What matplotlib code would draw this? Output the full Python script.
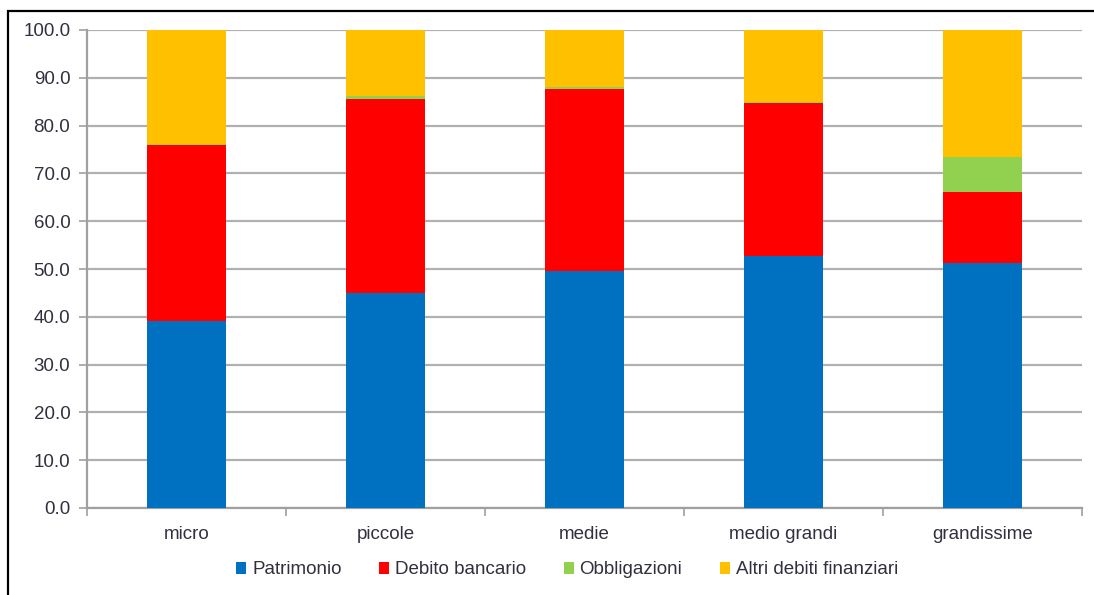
import matplotlib
matplotlib.use("Agg")
import matplotlib.pyplot as plt
from matplotlib.patches import Rectangle
import numpy as np

plt.rcParams['font.family'] = ['Liberation Sans', 'DejaVu Sans']

categories = ["micro", "piccole", "medie", "medio grandi", "grandissime"]
patrimonio = [39.2, 44.9, 49.5, 52.8, 51.2]
debito_bancario = [36.7, 40.6, 38.1, 31.9, 15.0]
obbligazioni = [0.3, 0.7, 0.5, 0.3, 7.2]
altri_debiti = [23.8, 13.8, 11.9, 15.0, 26.6]

series_names = ["Patrimonio", "Debito bancario", "Obbligazioni", "Altri debiti finanziari"]
series_values = [patrimonio, debito_bancario, obbligazioni, altri_debiti]
colors = ["#0070C0", "#FF0000", "#92D050", "#FFC000"]

W, H = 1094, 595
FS = 13.5
fig = plt.figure(figsize=(W / 100, H / 100), dpi=100)
ax = fig.add_axes([87 / W, 1 - 508 / H, (1082 - 87) / W, (508 - 30) / H])

x = np.arange(len(categories))
bottom = np.zeros(len(categories))
handles = []
for name, vals, c in zip(series_names, series_values, colors):
    b = ax.bar(x, vals, width=0.4, bottom=bottom, color=c, label=name, zorder=3)
    handles.append(b)
    bottom += np.array(vals)

ax.set_xlim(-0.5, len(categories) - 0.5)
ax.set_ylim(0, 100)
ax.set_yticks(np.arange(0, 101, 10))
ax.set_yticklabels([f"{v:.1f}" for v in np.arange(0, 101, 10)], fontsize=FS, color="#303040")
ax.yaxis.grid(True, color="#b0b0b0", linewidth=1.6, zorder=0)
ax.set_axisbelow(True)

ax.set_xticks(x)
ax.set_xticklabels(categories, fontsize=FS, color="#303040")
ax.tick_params(axis="x", length=0, pad=13)
ax.set_xticks(np.arange(-0.5, len(categories)), minor=True)
ax.tick_params(axis="x", which="minor", length=6, color="#a0a0a0", width=1.2)
ax.tick_params(axis="y", length=6, color="#a0a0a0", width=1.2, pad=6)

for s in ["top", "right"]:
    ax.spines[s].set_visible(False)
for s in ["left", "bottom"]:
    ax.spines[s].set_color("#a0a0a0")
    ax.spines[s].set_linewidth(1.6)

fig.legend(handles=handles, labels=series_names, loc="center",
           bbox_to_anchor=(567 / W, 1 - 570 / H), ncol=4, frameon=False,
           fontsize=FS, handlelength=0.55, handleheight=0.55, handletextpad=0.3,
           columnspacing=2.0, labelcolor="#303040")

# figure border (top and left visible)
fig.add_artist(Rectangle((8 / W, -0.05), 1.2, 1 - 11 / H + 0.05,
                         transform=fig.transFigure, fill=False,
                         edgecolor="black", linewidth=1.6))

fig.savefig("out.png", dpi=100)
